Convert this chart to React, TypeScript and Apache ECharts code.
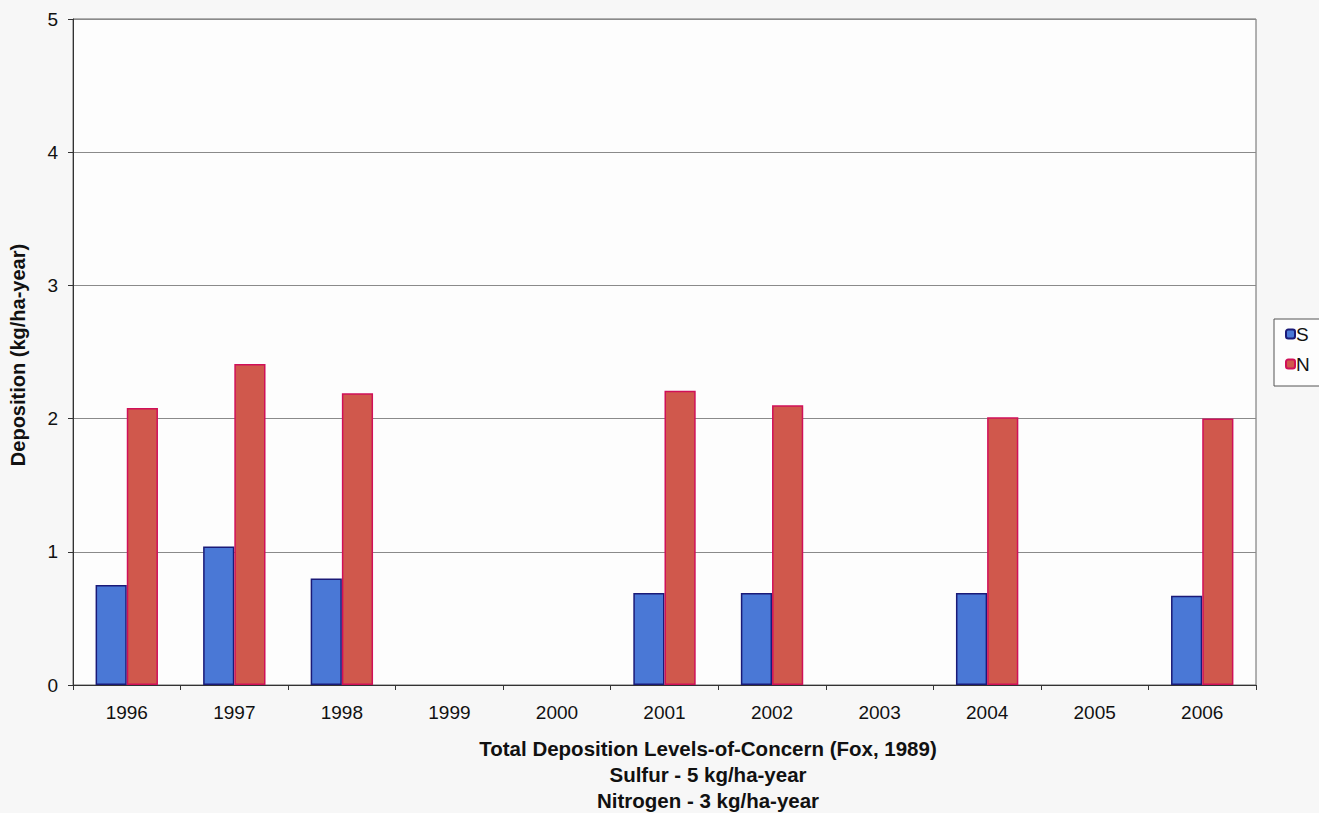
import React, { useEffect, useRef } from "react";
import * as echarts from "echarts";

const years = ["1996", "1997", "1998", "1999", "2000", "2001", "2002", "2003", "2004", "2005", "2006"];
const sulfur = [0.75, 1.04, 0.8, null, null, 0.69, 0.69, null, 0.69, null, 0.67];
const nitrogen = [2.08, 2.41, 2.19, null, null, 2.21, 2.1, null, 2.01, null, 2.0];
const yTicks = [0, 1, 2, 3, 4, 5];
const noteLines = [
  "Total Deposition Levels-of-Concern (Fox, 1989)",
  "Sulfur - 5 kg/ha-year",
  "Nitrogen - 3 kg/ha-year",
];

export default function App() {
  const ref = useRef<HTMLDivElement>(null);
  useEffect(() => {
    if (!ref.current) return;
    const chart = echarts.init(ref.current, undefined, { renderer: "svg" });
    const font = "Arial, 'Liberation Sans', Helvetica, sans-serif";
    chart.setOption({
      animation: false,
      backgroundColor: "#f7f7f7",
      textStyle: { fontFamily: font },
      grid: {
        left: 73,
        right: 63,
        top: 19,
        bottom: 128,
        show: true,
        backgroundColor: "#fdfdfd",
        borderColor: "#666",
        borderWidth: 1,
      },
      legend: {
        orient: "vertical",
        left: 1274,
        top: 319,
        itemWidth: 9,
        itemHeight: 9,
        itemGap: 10,
        padding: [5, 14, 12, 11],
        borderColor: "#555",
        borderWidth: 1,
        backgroundColor: "#fdfdfd",
        textStyle: { fontSize: 19, lineHeight: 20, color: "#111", padding: [0, 0, 0, -4] },
        data: ["S", "N"],
      },
      xAxis: {
        type: "category",
        data: years,
        boundaryGap: true,
        axisLine: { show: true, lineStyle: { color: "#333", width: 1 } },
        axisTick: { show: true, alignWithLabel: false, length: 5, lineStyle: { color: "#333" } },
        axisLabel: { fontSize: 19, color: "#111", margin: 18 },
        splitLine: { show: false },
      },
      yAxis: {
        type: "value",
        min: 0,
        max: yTicks[yTicks.length - 1],
        interval: 1,
        axisLine: { show: true, lineStyle: { color: "#333", width: 1 } },
        axisTick: { show: true, length: 5, lineStyle: { color: "#333" } },
        axisLabel: { fontSize: 19, color: "#111", margin: 15 },
        splitLine: { show: true, lineStyle: { color: "#8a8a8a", width: 1 } },
      },
      series: [
        {
          name: "S",
          type: "bar",
          data: sulfur,
          barWidth: "29%",
          barGap: "0%",
          itemStyle: { color: "#4a78d6", borderColor: "#1a1a78", borderWidth: 1.5 },
        },
        {
          name: "N",
          type: "bar",
          data: nitrogen,
          barWidth: "29%",
          barGap: "0%",
          itemStyle: { color: "#d0584c", borderColor: "#d01058", borderWidth: 1.5 },
        },
      ],
      graphic: [
        {
          type: "text",
          x: 18,
          y: 355,
          rotation: Math.PI / 2,
          style: {
            text: "Deposition (kg/ha-year)",
            fontSize: 20,
            fontWeight: "bold",
            fontFamily: font,
            fill: "#111",
            align: "center",
            verticalAlign: "middle",
          },
        },
        ...noteLines.map((t, i) => ({
          type: "text",
          x: 708,
          y: 748 + i * 26,
          style: {
            text: t,
            fontSize: 20.5,
            fontWeight: "bold",
            fontFamily: font,
            fill: "#111",
            align: "center",
            verticalAlign: "middle",
          },
        })),
      ],
    });
    return () => chart.dispose();
  }, []);
  return (
    <div
      ref={ref}
      style={{ position: "absolute", left: 0, top: 0, width: 1319, height: 813 }}
    />
  );
}
